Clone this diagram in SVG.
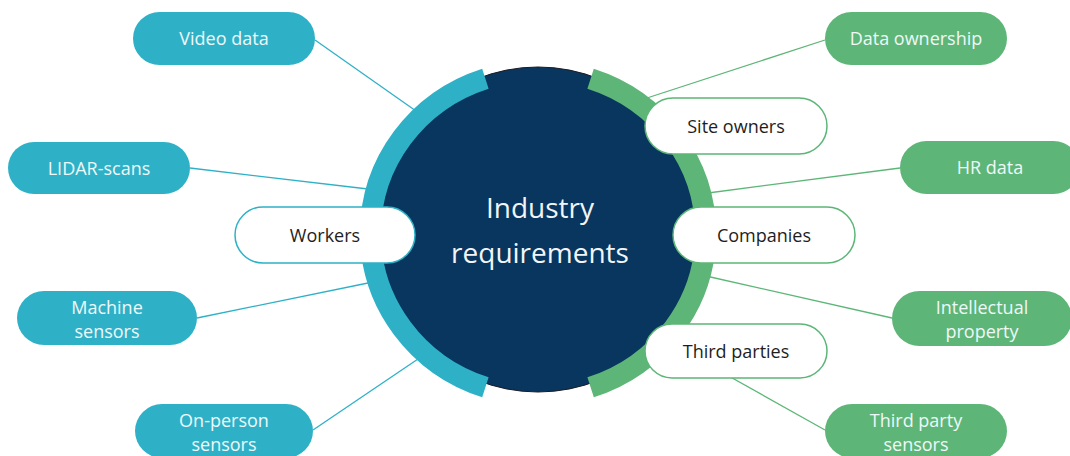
<svg xmlns="http://www.w3.org/2000/svg" width="1070" height="456" viewBox="0 0 1070 456">
  <style>
    text { font-family: "Open Sans", "Liberation Sans", sans-serif; font-size: 18px; text-anchor: middle; }
    .blue { fill: #2eb1c7; }
    .green { fill: #5db677; }
    .light { fill: #eef8f9; }
    .dark { fill: #1e1e1e; }
    .outline-blue { fill: #ffffff; stroke: #2eb1c7; stroke-width: 1.5; }
    .outline-green { fill: #ffffff; stroke: #5db677; stroke-width: 1.5; }
    .link-blue { stroke: #2eb1c7; stroke-width: 1.3; fill: none; }
    .link-green { stroke: #5db677; stroke-width: 1.3; fill: none; }
    .ring { fill: none; stroke-width: 21; stroke-linecap: butt; }
  </style>

  <rect width="1070" height="456" fill="#ffffff"/>

  <!-- connectors -->
  <g id="connectors">
    <line class="link-blue" x1="315" y1="40" x2="416" y2="111"/>
    <line class="link-blue" x1="190" y1="168" x2="368" y2="189"/>
    <line class="link-blue" x1="197" y1="318" x2="368" y2="283"/>
    <line class="link-blue" x1="313" y1="430" x2="418" y2="359"/>
    <line class="link-green" x1="825" y1="40" x2="647" y2="98"/>
    <line class="link-green" x1="900" y1="168" x2="708" y2="193"/>
    <line class="link-green" x1="892" y1="318" x2="706" y2="276"/>
    <line class="link-green" x1="825" y1="430" x2="700" y2="360"/>
  </g>

  <!-- central hub -->
  <g id="hub">
    <circle cx="538" cy="229.5" r="162.5" fill="#08365e" stroke="#1b1b24" stroke-width="1"/>
    <path class="ring" stroke="#2eb1c7" d="M 485.4 78.7 A 167.5 162.5 0 0 0 485.4 387.3"/>
    <path class="ring" stroke="#5db677" d="M 590.6 78.7 A 167.5 162.5 0 0 1 590.6 387.3"/>
    <text x="540" y="218" fill="#f2f5f8" style="font-size:28px">Industry</text>
    <text x="540" y="263" fill="#f2f5f8" style="font-size:28px">requirements</text>
  </g>

  <!-- data sources (left) -->
  <g id="video-data">
    <rect class="blue" x="133" y="12" width="182" height="53" rx="26.5"/>
    <text class="light" x="224" y="45">Video data</text>
  </g>
  <g id="lidar-scans">
    <rect class="blue" x="8" y="142" width="182" height="52" rx="26"/>
    <text class="light" x="99" y="174.5">LIDAR-scans</text>
  </g>
  <g id="machine-sensors">
    <rect class="blue" x="17" y="291" width="180" height="54" rx="27"/>
    <text class="light" x="107" y="314">Machine</text>
    <text class="light" x="107" y="338">sensors</text>
  </g>
  <g id="on-person-sensors">
    <rect class="blue" x="135" y="404" width="178" height="54" rx="27"/>
    <text class="light" x="224" y="427">On-person</text>
    <text class="light" x="224" y="451">sensors</text>
  </g>
  <g id="workers">
    <rect class="outline-blue" x="235" y="207" width="180" height="56" rx="28"/>
    <text class="dark" x="325" y="242">Workers</text>
  </g>

  <!-- stakeholders and their concerns (right) -->
  <g id="site-owners">
    <rect class="outline-green" x="645" y="98" width="182" height="56" rx="28"/>
    <text class="dark" x="736" y="133">Site owners</text>
  </g>
  <g id="companies">
    <rect class="outline-green" x="673" y="207" width="182" height="56" rx="28"/>
    <text class="dark" x="764" y="242">Companies</text>
  </g>
  <g id="third-parties">
    <rect class="outline-green" x="645" y="324" width="182" height="54" rx="27"/>
    <text class="dark" x="736" y="358">Third parties</text>
  </g>
  <g id="data-ownership">
    <rect class="green" x="825" y="12" width="182" height="53" rx="26.5"/>
    <text class="light" x="916" y="45">Data ownership</text>
  </g>
  <g id="hr-data">
    <rect class="green" x="900" y="141" width="180" height="53" rx="26.5"/>
    <text class="light" x="990" y="174">HR data</text>
  </g>
  <g id="intellectual-property">
    <rect class="green" x="892" y="291" width="180" height="55" rx="27.5"/>
    <text class="light" x="982" y="314">Intellectual</text>
    <text class="light" x="982" y="338">property</text>
  </g>
  <g id="third-party-sensors">
    <rect class="green" x="825" y="404" width="182" height="54" rx="27"/>
    <text class="light" x="916" y="427">Third party</text>
    <text class="light" x="916" y="451">sensors</text>
  </g>
</svg>
